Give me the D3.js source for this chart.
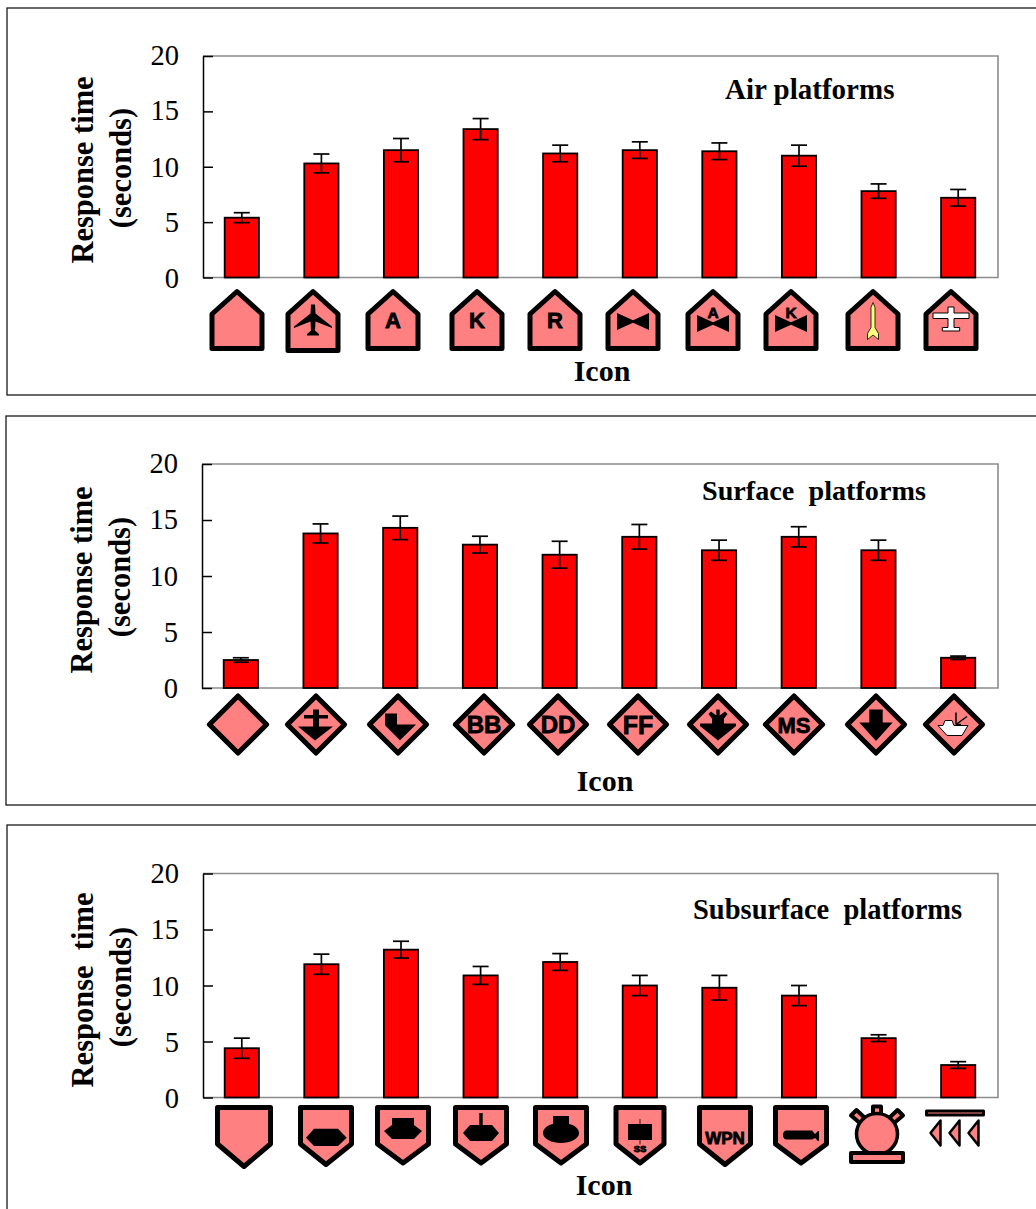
<!DOCTYPE html>
<html><head><meta charset="utf-8">
<script src="https://cdn.jsdelivr.net/npm/d3@7"></script>
<style>
html,body{margin:0;padding:0;background:#fff}
svg{display:block}
text{white-space:pre}
</style></head><body>
<svg id="c" width="1036" height="1209"></svg>
<script>
const yTicks=[0,5,10,15,20];
const airIcons=["air0","air1","airA","airK","airR","airBow","airBowA","airBowK","airMissile","airPlane"];
const airValues=[5.4,10.3,11.5,13.4,11.2,11.5,11.4,11.0,7.8,7.2];
const airErrors=[0.45,0.85,1.05,0.95,0.75,0.75,0.75,0.95,0.65,0.75];
const surfIcons=["surf0","surf1","surf2","surfBB","surfDD","surfFF","surf3","surfMS","surf5","surf6"];
const surfValues=[2.5,13.8,14.3,12.8,11.9,13.5,12.3,13.5,12.3,2.7];
const surfErrors=[0.2,0.85,1.05,0.75,1.2,1.1,0.9,0.9,0.9,0.15];
const subIcons=["sub0","sub1","sub2","sub3","sub4","sub5","subWPN","sub7","mine","triple"];
const subValues=[4.4,11.9,13.2,10.9,12.1,10.0,9.8,9.1,5.3,2.9];
const subErrors=[0.9,0.9,0.75,0.8,0.75,0.9,1.1,0.9,0.3,0.3];

const PINK="#ff8080";
const SERIF="'Liberation Serif',serif", SANS="'Liberation Sans',sans-serif";
const panels=[
 {box:[7,8,395],top:56,bottom:277.5,left:203,icons:airIcons,vals:airValues,errs:airErrors,
  title:"Air platforms",tx:725,ty:99,tsize:29,ylab:"Response time",yc:170,slabY:168,lab1X:93,lab2X:131,
  iconX:[237,313,393,477,555,633,713,791,873,951],iconY:319.5,xlabX:602,xlabY:381},
 {box:[6,416,805],top:464,bottom:688,left:202,icons:surfIcons,vals:surfValues,errs:surfErrors,
  title:"Surface  platforms",tx:702,ty:500,tsize:28.2,ylab:"Response time",yc:580,slabY:577,lab1X:92,lab2X:130,
  iconX:[238,316,398,484,558,638,718,794,876,954],iconY:724.5,xlabX:605,xlabY:791},
 {box:[7,825,1300],top:873.5,bottom:1097.5,left:203,icons:subIcons,vals:subValues,errs:subErrors,
  title:"Subsurface  platforms",tx:693,ty:919,tsize:28.5,ylab:"Response  time",yc:990,slabY:987,lab1X:93,lab2X:131,
  iconX:[244,326,403,481,561,640,725,801,877,955],iconY:1137,xlabX:604,xlabY:1195}
];

// icon glyph library, local coordinates about each icon's centre
const pent=(dy=0)=>({d:`M0,-28L25,-5.5L25,${29+dy}L-25,${29+dy}L-25,-5.5Z`,fill:PINK,stroke:"#000",sw:5});
const dia=()=>({d:"M0,-28.6L28.6,0L0,28.6L-28.6,0Z",fill:PINK,stroke:"#000",sw:5});
const shield=(hw=25.5,b=27.5,s=7)=>({d:`M${-hw},-29.5L${hw},-29.5L${hw},${s}L0,${b}L${-hw},${s}Z`,fill:PINK,stroke:"#000",sw:5});
const blk=d=>({d,fill:"#000"});
const txt=(s,x,y,size)=>({text:s,x,y,size});
const bow=dy=>blk(`M-16,${dy-8.5}L0,${dy-1.2}L16,${dy-8.5}L16,${dy+8.5}L0,${dy+1.2}L-16,${dy+8.5}Z`);
const iconLib={
 air0:[pent()],
 air1:[pent(2),blk("M-2,-15L2,-15L2.5,-6L19,7L19,8.5L2.5,2L2,11L6,14.5L6,16L-6,16L-6,14.5L-2,11L-2.5,2L-19,8.5L-19,7L-2.5,-6Z")],
 airA:[pent(),txt("A",0,8.8,22)],
 airK:[pent(),txt("K",0,8.8,22)],
 airR:[pent(),txt("R",0,8.8,22)],
 airBow:[pent(),bow(2)],
 airBowA:[pent(),bow(4),txt("A",0,-1.8,15.5)],
 airBowK:[pent(),bow(4),txt("K",0,-1.8,15.5)],
 airMissile:[pent(),{d:"M0,-17L2,-12L2,8L5.5,14L5.5,20L0,15.5L-5.5,20L-5.5,14L-2,8L-2,-12Z",fill:"#ffff80",stroke:"#000",sw:.8}],
 airPlane:[pent(),{d:"M-3,-12.5L3,-12.5L3,-6.5L18,-6.5L18,-1L3,-1L3,8L8.7,8L8.7,11.5L-8.7,11.5L-8.7,8L-3,8L-3,-1L-18,-1L-18,-6.5L-3,-6.5Z",fill:"#fff",stroke:"#000",sw:1}],
 surf0:[dia()],
 surf1:[dia(),blk("M-3,-15L3,-15L3,-9.5L12,-9.5L12,-6L3,-6L3,2L17,2L-1,16L-18,2L-3,2L-3,-6L-12,-6L-12,-9.5L-3,-9.5Z")],
 surf2:[dia(),blk("M-13,-11L-1,-11L-1,0L18,0L2,15.7L-13,0.7Z")],
 surfBB:[dia(),txt("BB",0,8.5,24)],
 surfDD:[dia(),txt("DD",0,8.5,24)],
 surfFF:[dia(),txt("FF",0,9,25)],
 surf3:[dia(),blk("M-1.7,-15L1.7,-15L1.7,-9L7,-13L9.5,-10.5L6,-6L6,-1L18,-1L18,1.5L0,16L-18,1.5L-18,-1L-6,-1L-6,-6L-9.5,-10.5L-7,-13L-1.7,-9Z")],
 surfMS:[dia(),txt("MS",0,8.5,22)],
 surf5:[dia(),blk("M-6.7,-15L6.7,-15L6.7,-2L16.7,-2L0,16.5L-16.7,-2L-6.7,-2Z")],
 surf6:[dia(),{d:"M-16,1L-11,1L-9,-4L-2,-4L0,1L14,1L8,11L-7,11Z",fill:"#fff",stroke:"#000",sw:1},{d:"M2,-12L2,0M13,-8L2,0M2,0L7,0",fill:"none",stroke:"#000",sw:1.5}],
 sub0:[shield(26.5,29.5,7)],
 sub1:[shield(25.5),blk("M-20,0.7L-12,-8.3L12,-8.3L20.7,0.7L12,9L-12,9Z")],
 sub2:[shield(25.5,26),blk("M-11,-19L11,-19L11,-12L19,-6L11,2L-11,2L-19,-6L-11,-12Z")],
 sub3:[shield(25.5,26),blk("M-1.7,-24L1.7,-24L1.7,-12L11,-12L18,-4L11,4L-11,4L-18,-4L-11,-12L-1.7,-12Z")],
 sub4:[shield(25.5,26),blk("M-8,-21L8,-21L8,-13C14,-12 18,-8 18,-4C18,2 9,6 0,6C-9,6 -18,2 -18,-4C-18,-8 -14,-12 -8,-13Z")],
 sub5:[shield(24,26,7),blk("M-.4,-18L.4,-18L.4,-13L12,-13L12,3L.4,3L.4,7.5L-.4,7.5L-.4,3L-12,3L-12,-13L-.4,-13Z"),txt("SS",0,15,9.5)],
 subWPN:[shield(25.5),txt("WPN",0,6.5,17)],
 sub7:[shield(25.5,26),blk("M-15,-6.5L11,-6.5L14,-3L17,-6L18,-6L18,4L17,4L14,1L11,2.5L-15,2.5C-19,2.5 -19,-6.5 -15,-6.5Z")],
 mine:[
  {d:"M-4,-30.5L4,-30.5L4,-20L-4,-20Z",fill:PINK,stroke:"#000",sw:4},
  {d:"M-26,-21.5L-20.5,-27L-11,-18L-16,-13Z",fill:PINK,stroke:"#000",sw:4},
  {d:"M26,-21.5L20.5,-27L11,-18L16,-13Z",fill:PINK,stroke:"#000",sw:4},
  {d:"M-20.5,-3A20.5,20.5 0 1 1 20.5,-3A20.5,20.5 0 1 1 -20.5,-3Z",fill:PINK,stroke:"#000",sw:3.5},
  {d:"M-26,16L26,16L26,25L-26,25Z",fill:PINK,stroke:"#000",sw:4}],
 triple:[
  {d:"M-28.5,-26L28.5,-26L28.5,-22L-28.5,-22Z",fill:PINK,stroke:"#000",sw:3},
  {d:"M-14.5,-16.5L-24.5,-4L-14.5,8.5Z",fill:PINK,stroke:"#000",sw:2.5},
  {d:"M4.5,-16.5L-5.5,-4L4.5,8.5Z",fill:PINK,stroke:"#000",sw:2.5},
  {d:"M23.5,-16.5L13.5,-4L23.5,8.5Z",fill:PINK,stroke:"#000",sw:2.5}]
};

const svg=d3.select("#c");
const RIGHT=998;

panels.forEach(p=>{
  const [bx,by0,by1]=p.box;
  svg.append("rect").attr("x",bx).attr("y",by0).attr("width",1100).attr("height",by1-by0)
    .attr("fill","#fff").attr("stroke","#1a1a1a").attr("stroke-width",1.3);
  const g=svg.append("g");
  const x=d3.scaleBand().domain(d3.range(p.vals.length)).range([p.left-1,RIGHT]).paddingInner(0.57).paddingOuter(0.285);
  const y=d3.scaleLinear().domain([0,20]).range([p.bottom,p.top]);

  // gray plot frame
  g.append("path").attr("d",`M${p.left},${p.top}H${RIGHT}V${p.bottom}H${p.left}`)
    .attr("fill","none").attr("stroke","#8c8c8c").attr("stroke-width",1.6);

  // bars
  g.selectAll(".bar").data(p.vals).join("rect").attr("class","bar")
    .attr("x",(d,i)=>x(i)).attr("width",x.bandwidth())
    .attr("y",d=>y(d)).attr("height",d=>y(0)-y(d))
    .attr("fill","#ff0000").attr("stroke","#000").attr("stroke-width",1.8);

  // error bars
  const eg=g.selectAll(".err").data(p.vals).join("g").attr("class","err")
    .attr("stroke","#000").attr("stroke-width",1.7);
  const cx=i=>x(i)+x.bandwidth()/2;
  eg.append("line").attr("x1",(d,i)=>cx(i)).attr("x2",(d,i)=>cx(i))
    .attr("y1",(d,i)=>y(d+p.errs[i])).attr("y2",(d,i)=>y(d-p.errs[i]));
  eg.append("line").attr("x1",(d,i)=>cx(i)-8).attr("x2",(d,i)=>cx(i)+8)
    .attr("y1",(d,i)=>y(d+p.errs[i])).attr("y2",(d,i)=>y(d+p.errs[i]));
  eg.append("line").attr("x1",(d,i)=>cx(i)-8).attr("x2",(d,i)=>cx(i)+8)
    .attr("y1",(d,i)=>y(d-p.errs[i])).attr("y2",(d,i)=>y(d-p.errs[i]));

  // y axis
  const ax=g.append("g").attr("transform",`translate(${p.left},0)`)
    .call(d3.axisLeft(y).tickValues(yTicks).tickSizeInner(-10).tickSizeOuter(0).tickPadding(24));
  ax.select(".domain").attr("stroke","#000").attr("stroke-width",1.5);
  ax.selectAll(".tick line").attr("stroke","#000").attr("stroke-width",1.5);
  ax.selectAll(".tick text").attr("font-family",SERIF).attr("font-size",28.5).attr("fill","#000")
    .attr("dy",null).attr("y",d=>d>=15?8.5:9.5);

  // axis titles
  const lab=(s,lx,ly)=>g.append("text").attr("transform",`translate(${lx},${ly}) rotate(-90)`)
    .attr("text-anchor","middle").attr("font-family",SERIF).attr("font-weight","bold")
    .attr("font-size",30.5).attr("fill","#000").text(s);
  lab(p.ylab,p.lab1X,p.yc);
  lab("(seconds)",p.lab2X,p.slabY);
  g.append("text").attr("x",p.xlabX).attr("y",p.xlabY).attr("text-anchor","middle")
    .attr("font-family",SERIF).attr("font-weight","bold").attr("font-size",30).text("Icon");
  g.append("text").attr("x",p.tx).attr("y",p.ty)
    .attr("font-family",SERIF).attr("font-weight","bold").attr("font-size",p.tsize).text(p.title);

  // icon row
  p.icons.forEach((k,i)=>{
    const ig=g.append("g").attr("transform",`translate(${p.iconX[i]},${p.iconY})`);
    iconLib[k].forEach(s=>{
      if(s.text){
        ig.append("text").attr("x",s.x).attr("y",s.y).attr("text-anchor","middle")
          .attr("font-family",SANS).attr("font-weight","bold").attr("font-size",s.size)
          .attr("stroke","#000").attr("stroke-width",.8).text(s.text);
      } else {
        ig.append("path").attr("d",s.d).attr("fill",s.fill)
          .attr("stroke",s.stroke||"none").attr("stroke-width",s.sw||0)
          .attr("stroke-linejoin","round");
      }
    });
  });
});
</script>
</body></html>
